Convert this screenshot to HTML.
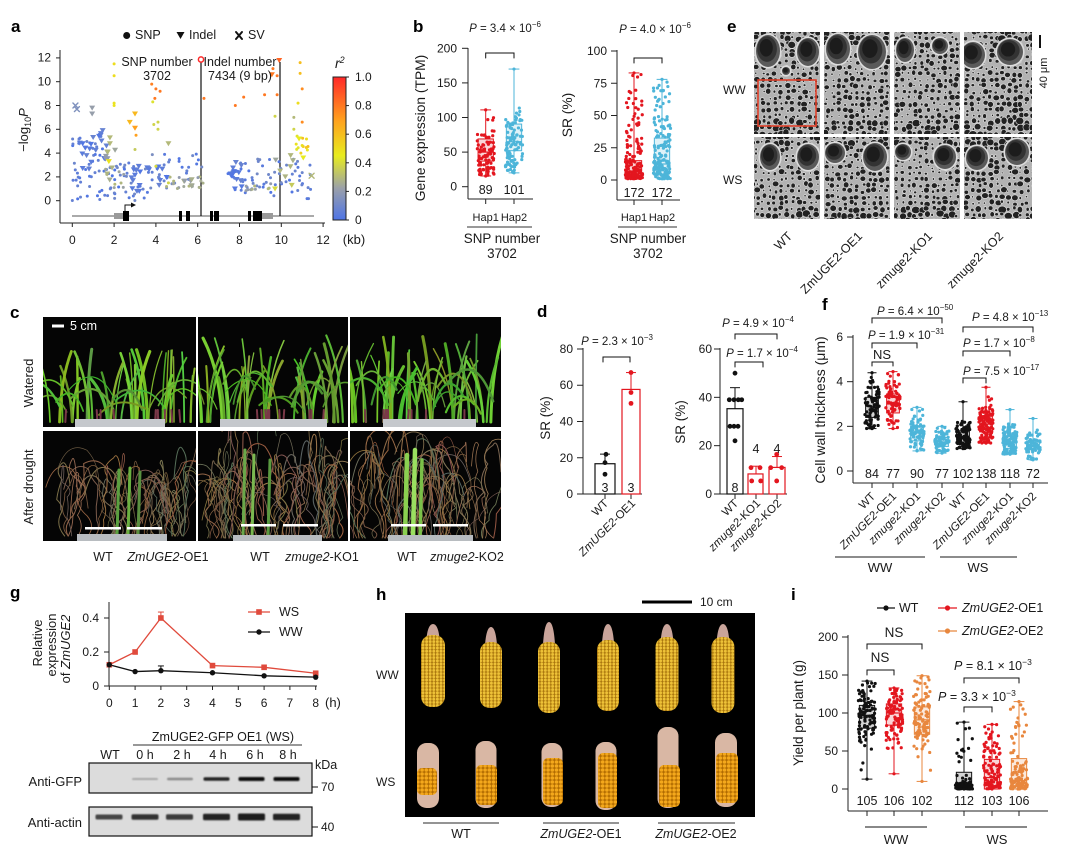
<!DOCTYPE html>
<html><head><meta charset="utf-8">
<style>
html,body{margin:0;padding:0;background:#fff;}
svg{display:block;font-family:"Liberation Sans",Arial,sans-serif;font-size:12px;fill:#1a1a1a;}
.b{font-weight:bold;font-size:17px;fill:#000;}
.p{font-size:11.5px;}
.it{font-style:italic;}
.w{fill:#fff;}
</style></head>
<body>
<svg id="s" width="1071" height="861" viewBox="0 0 1071 861" xmlns="http://www.w3.org/2000/svg">
<defs id="defs">
<linearGradient id="cbg" x1="0" y1="1" x2="0" y2="0"><stop offset="0" stop-color="#4e74e6"/><stop offset="0.22" stop-color="#9aa0aa"/><stop offset="0.45" stop-color="#e8ec1e"/><stop offset="0.7" stop-color="#ffa01e"/><stop offset="1" stop-color="#ff2828"/></linearGradient>
<pattern id="kern" width="3.6" height="3.2" patternUnits="userSpaceOnUse"><rect width="3.6" height="3.2" fill="#a8740c"/><circle cx="1.8" cy="1.6" r="1.45" fill="#eec238"/></pattern>
<pattern id="kern2" width="4.2" height="4" patternUnits="userSpaceOnUse"><rect width="4.2" height="4" fill="#b06a00"/><circle cx="2.1" cy="2" r="1.8" fill="#f4a81c"/></pattern>
<filter id="bl" x="-20%" y="-80%" width="140%" height="260%"><feGaussianBlur stdDeviation="0.9"/></filter>
</defs>
<g id="shp"></g>
<g id="txt" fill="#1a1a1a">
<!-- panel a -->
<text class="b" x="11" y="32">a</text>
<text x="135" y="39" font-size="12.5">SNP</text>
<text x="189" y="39" font-size="12.5">Indel</text>
<text x="248" y="39" font-size="12.5">SV</text>
<g text-anchor="end">
<text x="51" y="61.7">12</text><text x="51" y="85.5">10</text><text x="51" y="109.3">8</text><text x="51" y="133.1">6</text><text x="51" y="156.9">4</text><text x="51" y="180.7">2</text><text x="51" y="204.7">0</text>
</g>
<g text-anchor="middle">
<text x="72.3" y="244">0</text><text x="114.1" y="244">2</text><text x="155.9" y="244">4</text><text x="197.7" y="244">6</text><text x="239.5" y="244">8</text><text x="281.3" y="244">10</text><text x="323.1" y="244">12</text>
<text x="354" y="244" font-size="13">(kb)</text>
<text x="157" y="66" font-size="12.5">SNP number</text><text x="157" y="80" font-size="12.5">3702</text>
<text x="240" y="66" font-size="12.5">Indel number</text><text x="240" y="80" font-size="12.5">7434 (9 bp)</text>
</g>
<text transform="translate(28,130) rotate(-90)" text-anchor="middle" font-size="13">−log<tspan dy="3" font-size="9">10</tspan><tspan dy="-3" font-style="italic">P</tspan></text>
<text x="335" y="68" font-style="italic" font-size="14">r<tspan font-size="9" dy="-5">2</tspan></text>
<text x="355" y="81">1.0</text><text x="355" y="109.6">0.8</text><text x="355" y="138.2">0.6</text><text x="355" y="166.8">0.4</text><text x="355" y="195.4">0.2</text><text x="355" y="224">0</text>

<!-- panel b -->
<text class="b" x="413" y="32">b</text>
<g text-anchor="end">
<text x="457" y="52.3">200</text><text x="457" y="86.9">150</text><text x="457" y="121.5">100</text><text x="457" y="156.1">50</text><text x="457" y="190.7">0</text>
<text x="607" y="55">100</text><text x="607" y="87.3">75</text><text x="607" y="119.5">50</text><text x="607" y="151.8">25</text><text x="607" y="184">0</text>
</g>
<g text-anchor="middle">
<text x="485.7" y="194" font-size="12.5">89</text><text x="514" y="194" font-size="12.5">101</text>
<text x="485.7" y="221" font-size="11">Hap1</text><text x="514" y="221" font-size="11">Hap2</text>
<text x="502" y="243" font-size="13.4">SNP number</text><text x="502" y="258" font-size="13.4">3702</text>
<text class="p" x="505" y="32"><tspan class="it">P</tspan> = 3.4 × 10<tspan dy="-5" font-size="8">−6</tspan></text>
<text x="634" y="197" font-size="12.5">172</text><text x="662" y="197" font-size="12.5">172</text>
<text x="634" y="221" font-size="11">Hap1</text><text x="662" y="221" font-size="11">Hap2</text>
<text x="648" y="243" font-size="13.4">SNP number</text><text x="648" y="258" font-size="13.4">3702</text>
<text class="p" x="655" y="33"><tspan class="it">P</tspan> = 4.0 × 10<tspan dy="-5" font-size="8">−6</tspan></text>
</g>
<text transform="translate(425,128) rotate(-90)" text-anchor="middle" font-size="13.8">Gene expression (TPM)</text>
<text transform="translate(572,115) rotate(-90)" text-anchor="middle" font-size="13.8">SR (%)</text>

<!-- panel e -->
<text class="b" x="727" y="32">e</text>
<text x="723" y="94">WW</text>
<text x="723" y="184">WS</text>
<text transform="translate(1047,73) rotate(-90)" text-anchor="middle" font-size="11">40 μm</text>
<g text-anchor="end" font-size="12.5">
<text transform="translate(793,237) rotate(-45)">WT</text>
<text transform="translate(863,237) rotate(-45)">ZmUGE2-OE1</text>
<text transform="translate(933,237) rotate(-45)">zmuge2-KO1</text>
<text transform="translate(1004,237) rotate(-45)">zmuge2-KO2</text>
</g>

<!-- panel c -->
<text class="b" x="10" y="318">c</text>
<text class="w" x="70" y="330" font-size="12.5">5 cm</text>
<text transform="translate(33,383) rotate(-90)" text-anchor="middle" font-size="13">Watered</text>
<text transform="translate(33,487) rotate(-90)" text-anchor="middle" font-size="13">After drought</text>
<g text-anchor="middle" font-size="12.5">
<text x="103" y="561">WT</text><text x="168" y="561"><tspan class="it">ZmUGE2</tspan>-OE1</text>
<text x="260" y="561">WT</text><text x="322" y="561"><tspan class="it">zmuge2</tspan>-KO1</text>
<text x="407" y="561">WT</text><text x="467" y="561"><tspan class="it">zmuge2</tspan>-KO2</text>
</g>

<!-- panel d -->
<text class="b" x="537" y="317">d</text>
<g text-anchor="end">
<text x="573" y="353">80</text><text x="573" y="389.2">60</text><text x="573" y="425.5">40</text><text x="573" y="461.8">20</text><text x="573" y="498">0</text>
<text x="712" y="353">60</text><text x="712" y="401.3">40</text><text x="712" y="449.7">20</text><text x="712" y="498">0</text>
</g>
<g text-anchor="middle" font-size="12.5">
<text x="605" y="492">3</text><text x="631" y="492">3</text>
<text x="735" y="492">8</text><text x="756" y="453">4</text><text x="777" y="453">4</text>
<text class="p" x="617" y="345"><tspan class="it">P</tspan> = 2.3 × 10<tspan dy="-5" font-size="8">−3</tspan></text>
<text class="p" x="762" y="357"><tspan class="it">P</tspan> = 1.7 × 10<tspan dy="-5" font-size="8">−4</tspan></text>
<text class="p" x="758" y="327"><tspan class="it">P</tspan> = 4.9 × 10<tspan dy="-5" font-size="8">−4</tspan></text>
</g>
<text transform="translate(550,418) rotate(-90)" text-anchor="middle" font-size="13.5">SR (%)</text>
<text transform="translate(685,422) rotate(-90)" text-anchor="middle" font-size="13.5">SR (%)</text>
<g text-anchor="end" font-size="11.5">
<text transform="translate(609,504) rotate(-45)">WT</text>
<text transform="translate(636,504) rotate(-45)"><tspan class="it">ZmUGE2</tspan>-OE1</text>
<text transform="translate(739,504) rotate(-45)">WT</text>
<text transform="translate(761,504) rotate(-45)"><tspan class="it">zmuge2</tspan>-KO1</text>
<text transform="translate(782,504) rotate(-45)"><tspan class="it">zmuge2</tspan>-KO2</text>
</g>

<!-- panel f -->
<text class="b" x="822" y="310">f</text>
<g text-anchor="end">
<text x="843" y="341">6</text><text x="843" y="385.7">4</text><text x="843" y="430.3">2</text><text x="843" y="475">0</text>
</g>
<g text-anchor="middle" font-size="12.5">
<text x="872" y="478">84</text><text x="893" y="478">77</text><text x="917" y="478">90</text><text x="942" y="478">77</text><text x="963" y="478">102</text><text x="986" y="478">138</text><text x="1010" y="478">118</text><text x="1033" y="478">72</text>
<text x="882" y="359" font-size="13">NS</text>
<text x="880" y="572" font-size="13">WW</text><text x="978" y="572" font-size="13">WS</text>
</g>
<text class="p" x="877" y="315"><tspan class="it">P</tspan> = 6.4 × 10<tspan dy="-5" font-size="8">−50</tspan></text>
<text class="p" x="868" y="339"><tspan class="it">P</tspan> = 1.9 × 10<tspan dy="-5" font-size="8">−31</tspan></text>
<text class="p" x="972" y="321"><tspan class="it">P</tspan> = 4.8 × 10<tspan dy="-5" font-size="8">−13</tspan></text>
<text class="p" x="963" y="347"><tspan class="it">P</tspan> = 1.7 × 10<tspan dy="-5" font-size="8">−8</tspan></text>
<text class="p" x="963" y="375"><tspan class="it">P</tspan> = 7.5 × 10<tspan dy="-5" font-size="8">−17</tspan></text>
<text transform="translate(825,410) rotate(-90)" text-anchor="middle" font-size="14">Cell wall thickness (μm)</text>
<g text-anchor="end" font-size="11.5">
<text transform="translate(876,497) rotate(-45)">WT</text>
<text transform="translate(897,497) rotate(-45)"><tspan class="it">ZmUGE2</tspan>-OE1</text>
<text transform="translate(921,497) rotate(-45)"><tspan class="it">zmuge2</tspan>-KO1</text>
<text transform="translate(946,497) rotate(-45)"><tspan class="it">zmuge2</tspan>-KO2</text>
<text transform="translate(967,497) rotate(-45)">WT</text>
<text transform="translate(990,497) rotate(-45)"><tspan class="it">ZmUGE2</tspan>-OE1</text>
<text transform="translate(1014,497) rotate(-45)"><tspan class="it">zmuge2</tspan>-KO1</text>
<text transform="translate(1037,497) rotate(-45)"><tspan class="it">zmuge2</tspan>-KO2</text>
</g>

<!-- panel g -->
<text class="b" x="10" y="598">g</text>
<g text-anchor="end">
<text x="99" y="622">0.4</text><text x="99" y="656">0.2</text><text x="99" y="690">0</text>
</g>
<g text-anchor="middle">
<text x="109.3" y="707">0</text><text x="135.1" y="707">1</text><text x="160.9" y="707">2</text><text x="186.7" y="707">3</text><text x="212.5" y="707">4</text><text x="238.3" y="707">5</text><text x="264.1" y="707">6</text><text x="289.9" y="707">7</text><text x="315.7" y="707">8</text>
</g>
<text x="325" y="707" font-size="13">(h)</text>
<text x="279" y="616" font-size="12.5">WS</text>
<text x="279" y="636" font-size="12.5">WW</text>
<text transform="translate(42,643) rotate(-90)" text-anchor="middle" font-size="13">Relative</text>
<text transform="translate(56,645) rotate(-90)" text-anchor="middle" font-size="13">expression</text>
<text transform="translate(70,649) rotate(-90)" text-anchor="middle" font-size="13">of <tspan class="it">ZmUGE2</tspan></text>
<text x="223" y="741" text-anchor="middle" font-size="12.5">ZmUGE2-GFP OE1 (WS)</text>
<g text-anchor="middle" font-size="12.5">
<text x="110" y="759">WT</text><text x="145" y="759">0 h</text><text x="182" y="759">2 h</text><text x="218" y="759">4 h</text><text x="255" y="759">6 h</text><text x="288" y="759">8 h</text>
</g>
<text x="315" y="769" font-size="12.5">kDa</text>
<text x="321" y="791" font-size="12">70</text>
<text x="321" y="831" font-size="12">40</text>
<text x="82" y="786" text-anchor="end" font-size="13">Anti-GFP</text>
<text x="82" y="827" text-anchor="end" font-size="13">Anti-actin</text>

<!-- panel h -->
<text class="b" x="376" y="600">h</text>
<text x="700" y="606" font-size="12">10 cm</text>
<text x="376" y="679">WW</text>
<text x="376" y="786">WS</text>
<g text-anchor="middle" font-size="12.5">
<text x="461" y="838">WT</text>
<text x="581" y="838"><tspan class="it">ZmUGE2</tspan>-OE1</text>
<text x="696" y="838"><tspan class="it">ZmUGE2</tspan>-OE2</text>
</g>

<!-- panel i -->
<text class="b" x="791" y="600">i</text>
<text x="899" y="612" font-size="12.5">WT</text>
<text x="962" y="612" font-size="12.5"><tspan class="it">ZmUGE2</tspan>-OE1</text>
<text x="962" y="635" font-size="12.5"><tspan class="it">ZmUGE2</tspan>-OE2</text>
<g text-anchor="end">
<text x="838" y="641">200</text><text x="838" y="679">150</text><text x="838" y="717">100</text><text x="838" y="755">50</text><text x="838" y="793">0</text>
</g>
<g text-anchor="middle" font-size="12.5">
<text x="867" y="805">105</text><text x="894" y="805">106</text><text x="922" y="805">102</text><text x="964" y="805">112</text><text x="992" y="805">103</text><text x="1019" y="805">106</text>
<text x="880" y="662" font-size="13.5">NS</text>
<text x="894" y="637" font-size="13.5">NS</text>
<text x="896" y="844" font-size="13">WW</text><text x="997" y="844" font-size="13">WS</text>
</g>
<text x="938" y="701" font-size="12.5"><tspan class="it">P</tspan> = 3.3 × 10<tspan dy="-5" font-size="8.5">−3</tspan></text>
<text x="954" y="670" font-size="12.5"><tspan class="it">P</tspan> = 8.1 × 10<tspan dy="-5" font-size="8.5">−3</tspan></text>
<text transform="translate(803,713) rotate(-90)" text-anchor="middle" font-size="13.5">Yield per plant (g)</text>
</g>
</svg>
<script>
(function(){
const NS='http://www.w3.org/2000/svg';
const G=document.getElementById('shp');
const DEFS=document.getElementById('defs');
function el(t,a,p){const e=document.createElementNS(NS,t);for(const k in a)e.setAttribute(k,a[k]);(p||G).appendChild(e);return e;}
let sd=987654;function rnd(){sd=(sd*16807)%2147483647;return (sd-1)/2147483646;}
function gs(){let u=0;for(let i=0;i<6;i++)u+=rnd();return (u-3)/0.7071;}
function L(x1,y1,x2,y2,c,w,p){return el('line',{x1:x1,y1:y1,x2:x2,y2:y2,stroke:c||'#222','stroke-width':w||1},p);}
function P(d,c,w,p,f){return el('path',{d:d,stroke:c||'#222','stroke-width':w||1,fill:f||'none','stroke-linecap':'round'},p);}
function C(cx,cy,r,f,p){return el('circle',{cx:cx,cy:cy,r:r,fill:f||'#111'},p);}
function R(x,y,w,h,f,s,p,sw){const a={x:x,y:y,width:w,height:h,fill:f||'none'};if(s){a.stroke=s;a['stroke-width']=sw||1;}return el('rect',a,p);}
const K='#111',Rd='#e3161f',Cy='#4db5d9',Or='#e8873e';

function bx(cx,w,yv,q1,md,q3,lo,hi,col,n,mode){
  const bw=w*0.85;
  el('rect',{x:cx-bw/2,y:yv(q3),width:bw,height:Math.max(yv(q1)-yv(q3),0.5),fill:col,'fill-opacity':0.18});
  for(let i=0;i<n;i++){let v;
    if(mode==1){ if(rnd()<0.2){v=q3+(hi-q3)*rnd();} else {v=lo+(-Math.log(rnd()+1e-9))*Math.max(md-lo,0.5)/0.69;} }
    else {v=md+gs()*(q3-q1)/1.35;}
    if(v>hi)v=hi-(hi-md)*rnd()*0.3; if(v<lo)v=lo+(md-lo)*rnd()*0.3;
    C(cx+(rnd()-0.5)*w*0.95,yv(v),1.6,col);}
  C(cx,yv(hi),1.6,col);C(cx,yv(lo),1.6,col);
  R(cx-bw/2,yv(q3),bw,yv(q1)-yv(q3),'none',col,null,1);
  L(cx-bw/2,yv(md),cx+bw/2,yv(md),col,1.2);
  L(cx,yv(q3),cx,yv(hi),col);L(cx,yv(q1),cx,yv(lo),col);
  L(cx-w*0.3,yv(hi),cx+w*0.3,yv(hi),col);L(cx-w*0.3,yv(lo),cx+w*0.3,yv(lo),col);
}
function cell(x,y,w,h,id){const cp=el('clipPath',{id:id},DEFS);el('rect',{x:x,y:y,width:w,height:h},cp);
  const g=el('g',{'clip-path':'url(#'+id+')'});R(x,y,w,h,'#050505',null,g);return g;}

// ---------- panel a
try{
const ax=k=>72.3+20.9*k, ay=v=>200.7-11.9*v;
L(60,50,60,223);L(60,223,325,223);
for(let v=0;v<=12;v+=2){L(56,ay(v),60,ay(v));L(ax(v),223,ax(v),227);}
function r2c(t){const st=[[0,[78,116,230]],[0.22,[150,158,170]],[0.45,[232,236,30]],[0.7,[255,160,30]],[1,[255,40,40]]];
  for(let i=1;i<st.length;i++){if(t<=st[i][0]){const a=st[i-1],b=st[i],f=(t-a[0])/(b[0]-a[0]);return 'rgb('+a[1].map((v,j)=>Math.round(v+(b[1][j]-v)*f)).join(',')+')';}}return 'rgb(255,40,40)';}
function pt(k,v,r2,ty){const x=ax(k),y=ay(v),c=r2c(r2);
  if(ty==0)C(x,y,1.5,c);
  else if(ty==1)el('polygon',{points:(x-3)+','+(y-2.3)+' '+(x+3)+','+(y-2.3)+' '+x+','+(y+2.7),fill:c});
  else P('M'+(x-2.5)+','+(y-2.5)+'L'+(x+2.5)+','+(y+2.5)+'M'+(x-2.5)+','+(y+2.5)+'L'+(x+2.5)+','+(y-2.5),c,1.4);}
function cl(k0,k1,v0,v1,n,r0,r1,ty){for(let i=0;i<n;i++)pt(k0+(k1-k0)*rnd(),v0+(v1-v0)*rnd(),r0+(r1-r0)*rnd(),ty);}
L(72,216,314,216,'#777',1.2);
R(114,213,10,6,'#9a9a9a');R(262,213,11,6,'#9a9a9a');
[[123,6],[179,3],[186,4],[210,3],[214,5],[248,3],[253,3],[256,6]].forEach(e=>R(e[0],211,e[1],10,'#000'));
P('M125,211V205H132',K,1);el('polygon',{points:'131,202.5 136,205 131,207.5',fill:K});
L(201,60,201,216,K,1.2);L(280,62,280,216,K,1.2);
cl(0,1.6,0,5.5,45,0,0.1,0);
cl(1.6,3.6,0,3.2,38,0,0.12,0);
cl(3.6,6.2,1,4,32,0,0.15,0);
cl(7.4,9.6,0.5,3.5,35,0,0.12,0);
cl(9.6,11.5,0,3.5,30,0,0.12,0);
cl(4.5,6.3,1,2,16,0.2,0.3,0);cl(1.5,2.5,1,3,8,0.2,0.3,0);cl(8,9.6,0.8,1.5,10,0.2,0.3,0);
cl(0.3,1.7,2.5,6,20,0,0.08,1);cl(2.8,3.3,0,3,12,0,0.08,1);cl(3.4,4.6,1.2,3,8,0,0.08,1);cl(7.3,8.4,0.5,3.3,12,0,0.08,1);
cl(1.4,2.1,1.5,5.4,8,0.2,0.3,1);cl(5.3,6,1.2,1.8,6,0.22,0.3,1);cl(9.4,10.8,1,4.2,6,0.2,0.3,1);
cl(10.7,11.3,3.8,5.5,12,0.42,0.6,0);
[[2,11.5,.5],[2,10.5,.5],[2,8.2,.48],[2,8,.48],[3.8,9.8,.78],[4.0,9.4,.8],[4.2,9.2,.8],[3.95,8.6,.8],[3.85,8.3,.42],[3.9,6.4,.38],[4.1,6.6,.38],[4.1,6.0,.38],[3.05,5.5,.7],[6.3,8.6,.8],[7.8,8.0,.8],[8.2,8.7,.8],[9.2,8.9,.8],[9.6,11.1,.8],[9.8,10.5,.8],[9.8,8.9,.8],[10.9,11.6,.6],[10.9,10.7,.6],[11,9.4,.75],[10.8,8.2,.5],[11,6.6,.75],[9.7,7.1,.38],[10.6,7.0,.3],[10.6,6.0,.38],[3.0,4.3,0.35],[4,2.9,0.4],[4.6,1.5,0.38]].forEach(p=>pt(p[0],p[1],p[2],0));
[[2.75,6.6,.62],[3.0,7.3,.62],[3.0,6.1,.7],[9.55,10.6,.8],[9.9,11.8,.85],[1.75,3.3,.48],[11.05,3.6,.45],[10.85,5.2,.45],[1.8,5.3,.3],[1.8,4.8,.3],[0.95,7.8,.22],[0.95,7.3,.22],[10.5,1.3,0.35],[9.7,1.0,0.4],[4.6,4.8,0.3],[1.7,4.1,0.3]].forEach(p=>pt(p[0],p[1],p[2],1));
[[0.15,8,.15],[0.22,7.7,.15],[11.45,2.1,.3]].forEach(p=>pt(p[0],p[1],p[2],2));
el('circle',{cx:201,cy:59.5,r:2.6,fill:'#fff',stroke:'#ff2828','stroke-width':1.5});
C(126.7,35.5,3.5,K);el('polygon',{points:'176.5,32 184.5,32 180.5,39',fill:K});
P('M236,32L242,39M236,39L242,32',K,2);
R(333,77,13,143,'url(#cbg)','#222');
[77,105.6,134.2,162.8,191.4,220].forEach(y=>L(346,y,349,y));
}catch(e){}

// ---------- panel b
try{
const yb=v=>186.7-v*0.692;
L(468,48,468,199);L(468,199,533,199);
[0,50,100,150,200].forEach(v=>L(462,yb(v),468,yb(v)));
[485.7,514].forEach(x=>L(x,199,x,204));
bx(485.7,18,yb,37,50,69,15.5,111,Rd,89,0);
bx(514,18,yb,52,65,90.5,20,170,Cy,101,0);
P('M485.7,58V53H514V58',K,1);
L(467,227,532,227,'#333',1);
const yc=v=>180-v*1.29;
L(617,50,617,200);L(617,200,680,200);
[0,25,50,75,100].forEach(v=>L(611,yc(v),617,yc(v)));
[634,662].forEach(x=>L(x,200,x,205));
bx(634,18,yc,1.3,6.4,15,1,83,Rd,172,1);
bx(662,18,yc,4.7,12.4,32.5,1,78,Cy,172,1);
P('M634,63V58H662V63',K,1);
L(618,227,677,227,'#333',1);
}catch(e){}

// ---------- panel e
try{
function sem(x,y,w,h,id,ves){
  const g=cell(x,y,w,h,id);R(x,y,w,h,'#b2b2b2',null,g);
  for(let yy=y;yy<y+h+6;yy+=6)for(let xx=x-3;xx<x+w+6;xx+=6){
    const cx=xx+(rnd()-0.5)*3,cy=yy+(rnd()-0.5)*3;
    const edge=Math.min(Math.abs(cy-y),Math.abs(cy-(y+h)))<14?1.25:1;
    const r=(1.0+rnd()*2.0)*edge;
    el('ellipse',{cx:cx,cy:cy,rx:r*(0.8+rnd()*0.4),ry:r,fill:'#222',stroke:'#e2e2e2','stroke-width':0.6},g);}
  ves.forEach(v=>{
    el('ellipse',{cx:v[0],cy:v[1],rx:v[2]+1.6,ry:v[3]+1.6,fill:'#dcdcdc'},g);
    el('ellipse',{cx:v[0],cy:v[1],rx:v[2],ry:v[3],fill:'#5a5a5a'},g);
    el('ellipse',{cx:v[0]-v[2]*0.08,cy:v[1]-v[3]*0.12,rx:v[2]*0.82,ry:v[3]*0.8,fill:'#333'},g);
    el('ellipse',{cx:v[0]-v[2]*0.15,cy:v[1]-v[3]*0.2,rx:v[2]*0.55,ry:v[3]*0.55,fill:'#1c1c1c'},g);});
}
const cols=[[754,66],[824,66],[894,66],[964,68]];
const v1=[[[768,51,12,16],[808,52,11,14],[786,71,4,4]],[[838,49,12,15],[872,52,14,17]],[[905,50,9,12],[940,46,8,8]],[[973,55,12,13],[1010,52,13,13]]];
const v2=[[[770,157,10,13],[808,157,11,13]],[[835,153,10,10],[875,157,12,14]],[[903,152,8,8],[945,157,11,12]],[[977,158,11,12],[1017,152,12,13]]];
cols.forEach((c,i)=>{sem(c[0],32,c[1],102,'sa'+i,v1[i]);sem(c[0],137,c[1],82,'sb'+i,v2[i]);});
R(758,80,58,46,'none','#e0402a',null,1.6);
R(1039,35,2,13,K);
}catch(e){}

// ---------- panel c
try{
function greens(g,x0,x1,base,top,n){
  for(let i=0;i<n;i++){const bx0=x0+(x1-x0)*rnd(),h=(base-top)*(0.5+0.5*rnd()),lean=(rnd()-0.5)*40;
    const c='rgb('+(70+rnd()*70|0)+','+(150+rnd()*60|0)+','+(30+rnd()*40|0)+')';
    P('M'+bx0+','+base+'Q'+(bx0+lean*0.1)+','+(base-h*0.6)+' '+(bx0+lean)+','+(base-h),c,1.2+rnd()*2,g);}
  for(let i=0;i<n*0.35;i++){const bx0=x0+(x1-x0)*rnd(),h=(base-top)*(0.3+0.5*rnd()),d=(rnd()<0.5?-1:1)*(20+rnd()*30);
    const c='rgb('+(60+rnd()*60|0)+','+(135+rnd()*60|0)+','+(30+rnd()*30|0)+')';
    P('M'+bx0+','+(base-h*0.3)+'Q'+(bx0+d*0.4)+','+(base-h-5)+' '+(bx0+d)+','+(base-h*0.55),c,1+rnd()*1.5,g);}
  for(let i=0;i<10;i++){const bx0=x0+10+(x1-x0-20)*rnd();P('M'+bx0+','+base+'L'+(bx0+(rnd()-.5)*2)+','+(base-12),'#7a3848',2,g);}
}
function dried(g,x0,x1,base,top,n,gr){
  for(let i=0;i<n;i++){const bx0=x0+(x1-x0)*rnd(),h=(base-top)*(0.5+0.5*rnd());
    let d='M'+bx0+','+base,x=bx0,y=base;const dir=(rnd()-0.5)*2;
    for(let s=0;s<4;s++){const nx=x+(rnd()-0.5)*14+dir*5,ny=y-h/4*(0.7+rnd()*0.6);d+='Q'+(x+(rnd()-0.5)*18)+','+((y+ny)/2)+' '+nx+','+ny;x=nx;y=ny;}
    d+='Q'+(x+dir*20)+','+(y-10)+' '+(x+dir*30)+','+(y+15+rnd()*30);
    const c=rnd()<0.25?'rgb('+(85+rnd()*30|0)+','+(95+rnd()*30|0)+','+(80+rnd()*20|0)+')':'rgb('+(115+rnd()*45|0)+','+(85+rnd()*35|0)+','+(60+rnd()*25|0)+')';
    P(d,c,0.6+rnd()*0.5,g);}
  gr.forEach(q=>P('M'+q[0]+','+base+'Q'+(q[0]+1)+','+((base+q[1])/2)+' '+(q[0]+2)+','+q[1],q[2],q[3]||3,g));
}
R(42,316,460,226,'#fff');
let g=cell(43,317,153,110,'c1');greens(g,50,192,422,347,34);R(75,419,90,8,'#c5c8cc',null,g);
g=cell(198,317,150,110,'c2');greens(g,200,348,422,335,38);R(220,419,107,8,'#c5c8cc',null,g);
g=cell(350,317,151,110,'c3');greens(g,352,501,422,333,38);R(383,419,93,8,'#c5c8cc',null,g);
g=cell(43,431,153,110,'c4');dried(g,62,185,536,452,45,[[117,470,'#5aa040'],[128,468,'#6ab040'],[138,472,'#5a9040']]);
R(85,527,36,2.5,'#fff',null,g);R(127,527,35,2.5,'#fff',null,g);R(77,534,90,7,'#b8bcc0',null,g);
g=cell(198,431,150,110,'c5');dried(g,200,345,538,432,60,[[243,450,'#6aa84a'],[252,455,'#7ab850'],[268,460,'#5a9a40']]);
R(241,524,35,2.5,'#fff',null,g);R(283,524,35,2.5,'#fff',null,g);R(233,535,89,6,'#b8bcc0',null,g);
g=cell(350,431,151,110,'c6');dried(g,352,500,538,435,60,[[405,455,'#8ad050',4.5],[413,450,'#9ae060',4.5],[420,460,'#7ac048',3.5]]);
R(391,524,35,2.5,'#fff',null,g);R(433,524,35,2.5,'#fff',null,g);R(388,535,85,6,'#b8bcc0',null,g);
R(52,324.5,12,3,'#fff');
}catch(e){}

// ---------- panel d
try{
const yd=v=>494-v*1.8125;
L(583,348,583,494);L(583,494,642,494);
[0,20,40,60,80].forEach(v=>L(577,yd(v),583,yd(v)));
[605,631].forEach(x=>L(x,494,x,499));
R(595,yd(16.7),20,494-yd(16.7),'#fff',K,null,1.2);
R(622,yd(57.7),18,494-yd(57.7),'#fff',Rd,null,1.2);
L(605,yd(16.7),605,yd(22),K);L(600,yd(22),610,yd(22),K);
L(631,yd(57.7),631,yd(67),Rd);L(626,yd(67),636,yd(67),Rd);
C(606,yd(21.9),2.4,K);C(605,yd(17.3),2.4,K);C(605,yd(10.9),2.4,K);
C(631,yd(67),2.4,Rd);C(631,yd(56),2.4,Rd);C(631,yd(50),2.4,Rd);
P('M603,362V357H630V362',K,1);
const ye=v=>494-v*2.4167;
L(720,348,720,494);L(720,494,787,494);
[0,20,40,60].forEach(v=>L(714,ye(v),720,ye(v)));
[735,756,777].forEach(x=>L(x,494,x,499));
R(727,ye(35.3),16,494-ye(35.3),'#fff',K,null,1.2);
R(748,ye(8.3),15,494-ye(8.3),'#fff',Rd,null,1.2);
R(769,ye(11),16,494-ye(11),'#fff',Rd,null,1.2);
L(735,ye(35.3),735,ye(44),K);L(730,ye(44),740,ye(44),K);
L(756,ye(8.3),756,ye(11.5),Rd);L(751,ye(11.5),761,ye(11.5),Rd);
L(777,ye(11),777,ye(15.5),Rd);L(772,ye(15.5),782,ye(15.5),Rd);
[[735,50],[729.3,39],[734,39],[738.3,39],[741.7,39],[730,28],[734,28],[738,28],[735,22]].forEach(p=>C(p[0],ye(p[1]),2.4,K));
[[751,10.9],[760,10.9],[751.7,5.4],[760.7,5.4],[776.7,16.4],[770.7,10.9],[781.7,10.9],[776.7,5.4]].forEach(p=>C(p[0],ye(p[1]),2.4,Rd));
P('M735,367V362H763V367',K,1);P('M735,339V334H777V339',K,1);
}catch(e){}

// ---------- panel f
try{
const yf=v=>471-v*22.33;
L(853,335,853,483);L(853,483,1048,483);
[0,2,4,6].forEach(v=>L(847,yf(v),853,yf(v)));
[872,893,917,942,963,986,1010,1033].forEach(x=>L(x,483,x,488));
bx(872,15,yf,2.4,2.9,3.3,1.9,4.4,K,84,0);
bx(893,15,yf,2.6,3.0,3.45,1.9,4.45,Rd,77,0);
bx(917,15,yf,1.35,1.7,2.0,0.9,2.85,Cy,90,0);
bx(942,15,yf,1.1,1.3,1.5,0.8,2.0,Cy,77,0);
bx(963,15,yf,1.3,1.55,1.8,1.0,3.1,K,102,0);
bx(986,15,yf,1.75,2.1,2.45,1.25,3.75,Rd,138,0);
bx(1010,15,yf,1.0,1.25,1.55,0.75,2.75,Cy,118,0);
bx(1033,15,yf,0.95,1.15,1.35,0.5,2.35,Cy,72,0);
P('M872,366V362H893V366',K,1);P('M872,348V343H917V348',K,1);P('M872,323V318H942V323',K,1);
P('M963,383V378H986V383',K,1);P('M963,356V351H1010V356',K,1);P('M963,332V327H1033V332',K,1);
L(835,557,925,557,'#666',1.5);L(940,557,1017,557,'#666',1.5);
}catch(e){}

// ---------- panel g
try{
const gx=h=>109.3+25.8*h, gy=v=>686-v*170;
L(109,602,109,686);L(109,686,317,686);
[0,0.2,0.4].forEach(v=>L(104,gy(v),109,gy(v)));
for(let h=0;h<=8;h++)L(gx(h),686,gx(h),690);
const ws=[[0,.125],[1,.2],[2,.4],[4,.12],[6,.11],[8,.075]],ww=[[0,.125],[1,.085],[2,.09],[4,.078],[6,.06],[8,.052]];
const WC='#e04a3c';
L(gx(2),gy(.4),gx(2),gy(.435),WC);L(gx(2)-3,gy(.435),gx(2)+3,gy(.435),WC);
L(gx(2),gy(.09),gx(2),gy(.118),K);L(gx(2)-3,gy(.118),gx(2)+3,gy(.118),K);
el('polyline',{points:ws.map(p=>gx(p[0])+','+gy(p[1])).join(' '),fill:'none',stroke:WC,'stroke-width':1.3});
el('polyline',{points:ww.map(p=>gx(p[0])+','+gy(p[1])).join(' '),fill:'none',stroke:K,'stroke-width':1.3});
ws.forEach(p=>R(gx(p[0])-2.8,gy(p[1])-2.8,5.6,5.6,WC));
ww.forEach(p=>C(gx(p[0]),gy(p[1]),2.7,K));
L(248,612,270,612,WC,1.3);R(256.2,609.2,5.6,5.6,WC);
L(248,632,270,632,K,1.3);C(259,632,2.7,K);
L(133,745,302,745,'#777',1.5);
R(89,763,223,30,'#dcdcdc',K,null,1.2);R(89,807,223,29,'#dcdcdc',K,null,1.2);
[[145,'#a8a8a8',2],[180,'#8a8a8a',2.5],[216.5,'#222',3.5],[251.5,'#111',4],[286.5,'#111',4]].forEach(b=>el('rect',{x:b[0]-13,y:779-b[2]/2,width:26,height:b[2],rx:1.5,fill:b[1],filter:'url(#bl)'}));
[[109,'#444',5],[145,'#333',5.5],[179.5,'#3a3a3a',5.5],[216.5,'#222',6.5],[251.5,'#1a1a1a',7],[286.5,'#222',6.5]].forEach(b=>el('rect',{x:b[0]-13.5,y:817-b[2]/2,width:27,height:b[2],rx:1.5,fill:b[1],filter:'url(#bl)'}));
L(312,787,318,787,K);L(312,827,318,827,K);
}catch(e){}

// ---------- panel h
try{
R(405,613,350,204,'#000');
R(642,600.5,50,3,'#000');
function earWW(cx,y0,y1,w,tt){
  el('path',{d:'M'+(cx-w*0.28)+','+(y0+5)+'Q'+(cx-w*0.22)+','+tt+' '+cx+','+tt+'Q'+(cx+w*0.22)+','+tt+' '+(cx+w*0.28)+','+(y0+5)+'Z',fill:'#c9a49a'});
  el('rect',{x:cx-w/2,y:y0,width:w,height:y1-y0,rx:w/2.3,ry:w/2.3,fill:'url(#kern)'});
}
earWW(433,635,707,24,624);earWW(491,642,708,22,627);earWW(549,642,713,22,622);
earWW(608,640,711,22,624);earWW(667,637,711,23,624);earWW(723,637,713,23,624);
function earWS(cx,y0,y1,w,k0,k1,kx0,kx1){
  el('rect',{x:cx-w/2,y:y0,width:w,height:y1-y0,rx:w/2.3,ry:w/2.3,fill:'#d9b7a4'});
  el('rect',{x:kx0,y:k0,width:kx1-kx0,height:k1-k0,rx:5,fill:'url(#kern2)'});
}
earWS(428,743,808,22,768,795,417,437);earWS(486,741,808,21,765,805,476,497);
earWS(552,743,807,21,758,805,543,563);earWS(606,742,810,21,753,808,598,617);
earWS(668,727,808,21,765,807,659,680);earWS(726,733,807,22,753,803,716,738);
L(423,823,499,823,'#555',1.2);L(543,823,619,823,'#555',1.2);L(658,823,735,823,'#555',1.2);
}catch(e){}

// ---------- panel i
try{
const yi=v=>789-v*0.76;
L(848,635,848,811);L(848,811,1048,811);
[0,50,100,150,200].forEach(v=>L(842,yi(v),848,yi(v)));
[867,894,922,964,992,1019].forEach(x=>L(x,811,x,816));
bx(867,18,yi,80,97,110,13,142,K,105,0);
bx(894,18,yi,84,100,112,20,133,Rd,106,0);
bx(922,18,yi,72,91,108,10,149,Or,102,0);
bx(964,18,yi,0,3,22,0,88,K,112,1);
bx(992,18,yi,0,15,39,0,85,Rd,103,1);
bx(1019,18,yi,0,11,40,0,115,Or,106,1);
P('M867,675V670H894V675',K,1);P('M867,649V644H922V649',K,1);
P('M964,712V707H992V712',K,1);P('M964,683V678H1019V683',K,1);
L(865,827,927,827,K);L(965,827,1027,827,K);
L(877,608,895,608,K,1.3);C(886,608,2.6,K);
L(938,608,957,608,Rd,1.3);C(947.5,608,2.6,Rd);
L(938,631,957,631,Or,1.3);C(947.5,631,2.6,Or);
}catch(e){}
})();
</script>
</body></html>
